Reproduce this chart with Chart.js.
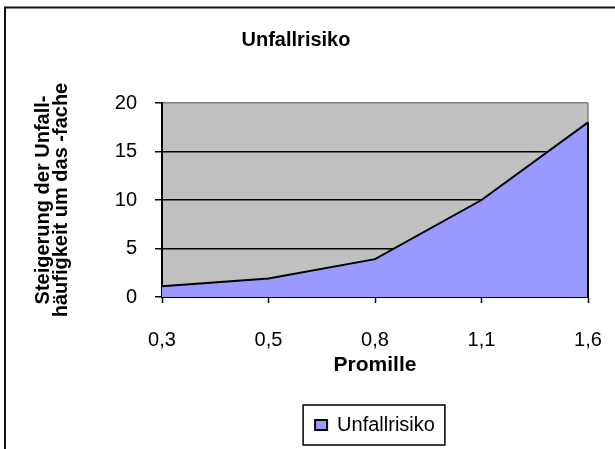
<!DOCTYPE html>
<html>
<head>
<meta charset="utf-8">
<script src="https://cdn.jsdelivr.net/npm/chart.js@4/dist/chart.umd.min.js"></script>
<style>
  html, body { margin: 0; padding: 0; background: #fff; }
  #wrap { position: relative; width: 615px; height: 449px; }
</style>
</head>
<body>
<div id="wrap"><canvas id="chart" width="615" height="449"></canvas></div>
<script>
// data
var categories = ["0,3", "0,5", "0,8", "1,1", "1,6"];
var risk = [1.1, 1.9, 3.9, 10, 18];
var yTicks = [0, 5, 10, 15, 20];

var FONT = "Arial, 'Liberation Sans', sans-serif";

// grey plot area, outer frame, right edge and the legend box
var excelLook = {
    id: "excelLook",
    beforeDraw: function(chart) {
        var ctx = chart.ctx, a = chart.chartArea;
        ctx.save();
        ctx.strokeStyle = "#111";
        ctx.lineWidth = 2;
        ctx.strokeRect(5, 7.5, 700, 700);
        ctx.fillStyle = "#C0C0C0";
        ctx.fillRect(a.left, a.top, a.right - a.left, a.bottom - a.top);
        ctx.strokeStyle = "#808080";
        ctx.lineWidth = 1.5;
        ctx.beginPath();
        ctx.moveTo(a.right, a.top);
        ctx.lineTo(a.right, a.bottom);
        ctx.stroke();
        ctx.restore();
    },
    afterDatasetsDraw: function(chart) {
        var ctx = chart.ctx, x = chart.scales.x, y = chart.scales.y;
        var last = risk.length - 1;
        ctx.save();
        ctx.strokeStyle = "#000";
        ctx.lineWidth = 2;
        ctx.beginPath();
        ctx.moveTo(x.getPixelForValue(last), y.getPixelForValue(risk[last]));
        ctx.lineTo(x.getPixelForValue(last), y.getPixelForValue(0));
        ctx.stroke();
        ctx.restore();
    },
    afterDraw: function(chart) {
        var hb = chart.legend.legendHitBoxes[0];
        if (!hb) return;
        var ctx = chart.ctx;
        var cy = hb.top + hb.height / 2;
        ctx.save();
        ctx.strokeStyle = "#000";
        ctx.lineWidth = 1.5;
        ctx.strokeRect(hb.left - 12, cy - 20, hb.width + 22, 40);
        ctx.restore();
    }
};

new Chart(document.getElementById("chart"), {
    type: "line",
    data: {
        labels: categories,
        datasets: [{
            label: "Unfallrisiko",
            data: risk,
            fill: "origin",
            backgroundColor: "#9999FF",
            borderColor: "#000",
            borderWidth: 2,
            pointRadius: 0,
            tension: 0
        }]
    },
    options: {
        responsive: false,
        animation: false,
        layout: { padding: { left: 4, right: 27, top: 0, bottom: 4 } },
        plugins: {
            title: {
                display: true,
                text: "Unfallrisiko",
                color: "#000",
                font: { family: FONT, size: 20, weight: "bold" },
                padding: { top: 28, bottom: 51 }
            },
            legend: {
                position: "bottom",
                fullSize: false,
                labels: {
                    color: "#000",
                    font: { family: FONT, size: 20 },
                    boxWidth: 12,
                    boxHeight: 10,
                    padding: 10
                }
            },
            tooltip: { enabled: false }
        },
        scales: {
            x: {
                offset: false,
                afterFit: function(scale) {
                    scale.height = 108;
                    scale.paddingLeft = 0;
                    scale.paddingRight = 0;
                },
                grid: { drawOnChartArea: false, tickLength: 6, tickColor: "#000", tickWidth: 1.5 },
                border: { color: "#000", width: 2 },
                ticks: { color: "#000", font: { family: FONT, size: 20 }, padding: 25, maxRotation: 0 },
                title: {
                    display: true,
                    text: "Promille",
                    color: "#000",
                    font: { family: FONT, size: 21, weight: "bold" },
                    padding: { top: 2, bottom: 27 }
                }
            },
            y: {
                min: yTicks[0],
                max: yTicks[yTicks.length - 1],
                afterBuildTicks: function(scale) {
                    scale.ticks = yTicks.map(function(v) { return { value: v }; });
                },
                afterFit: function(scale) { scale.width = 158; },
                grid: {
                    color: function(c) { return c.tick && c.tick.value === 20 ? "#808080" : "#000"; },
                    lineWidth: 1.5,
                    tickLength: 7,
                    tickColor: "#000"
                },
                border: { color: "#000", width: 2 },
                ticks: { color: "#000", font: { family: FONT, size: 20 }, padding: 18 },
                title: {
                    display: true,
                    text: ["Steigerung der Unfall-", "häufigkeit um das -fache"],
                    color: "#000",
                    font: { family: FONT, size: 20, weight: "bold", lineHeight: "18px" },
                    padding: { top: 30, bottom: 4 }
                }
            }
        }
    },
    plugins: [excelLook]
});
</script>
</body>
</html>
